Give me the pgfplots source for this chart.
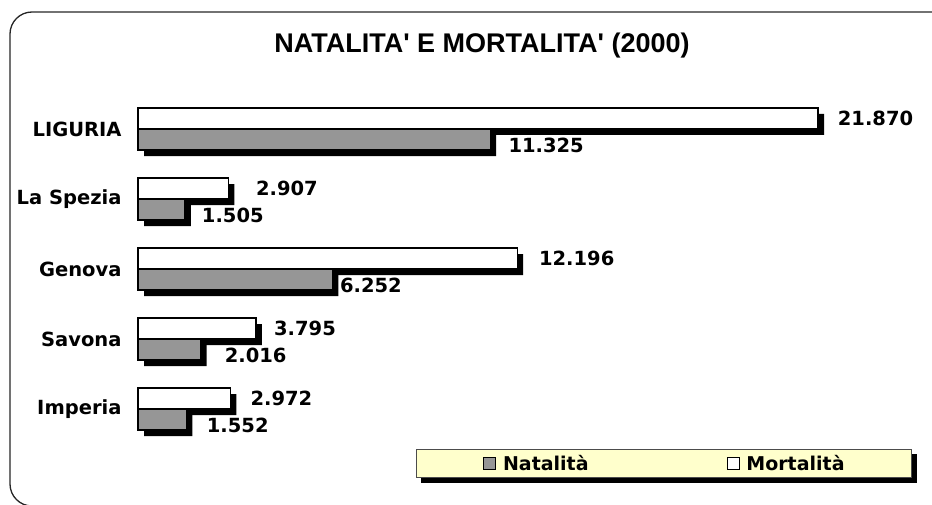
\documentclass[border=0pt]{standalone}
\usepackage{fontspec}
\usepackage{pgfplots}
\pgfplotsset{compat=1.18}
\usepackage{pgfplotstable}
\setmainfont{DejaVu Sans}
\newfontfamily\lblfont{DejaVu Sans}
\newfontfamily\titlefont{Liberation Sans}
\definecolor{natgray}{HTML}{969696}
\definecolor{legbg}{HTML}{FFFFCC}
\pgfdeclarelayer{background}
\pgfsetlayers{background,main}

\pgfplotstableread{
y nat mor natl morl offn offm
0 1552 2972 1.552 2.972 51.5 51
1 2016 3795 2.016 3.795 55 49
2 6252 12196 6.252 12.196 38.5 59.5
3 1505 2907 1.505 2.907 48 58.5
4 11325 21870 11.325 21.870 56 57.5
}\datatable

\begin{document}
\begin{tikzpicture}[x=1pt,y=1pt]
\path[use as bounding box] (0,0) rectangle (932,504);
\draw[line width=1.3pt, color=black!85, rounded corners=22pt] (960,492) -- (10,492) -- (10,-2) -- (960,-2);
\node[font=\titlefont\bfseries\fontsize{27}{31}\selectfont] at (482,458.5) {NATALITA\textquotesingle{} E MORTALITA\textquotesingle{} (2000)};
\begin{axis}[
  at={(138pt,60pt)}, anchor=south west,
  scale only axis, width=680pt, height=350pt,
  xmin=0, xmax=21870, ymin=-0.5, ymax=4.5,
  xbar, bar width=21pt,
  axis x line=none, axis y line*=left, y axis line style={draw=none},
  ytick={0,1,2,3,4}, yticklabels={Imperia,Savona,Genova,La Spezia,LIGURIA},
  major tick length=0pt, tick style={draw=none},
  yticklabel style={font=\lblfont\bfseries\fontsize{19.5}{23}\selectfont, anchor=east, xshift=-13pt},
  clip=false,
  point meta=explicit symbolic,
  legend style={name=leg, at={(1.1382,-0.0971)}, anchor=south east, fill=legbg, draw=black!70, line width=0.8pt,
    legend columns=2, inner xsep=67pt, inner ysep=5.5pt,
    nodes={inner sep=0pt, font=\lblfont\bfseries\fontsize{19}{23}\selectfont},
    /tikz/every odd column/.append style={column sep=7pt},
    /tikz/every even column/.append style={column sep=138pt}},
  legend cell align=left,
  legend image code/.code={\draw[#1, line width=0.8pt] (0pt,-6pt) rectangle (12pt,6pt);},
]
\addlegendimage{fill=natgray, draw=black}
\addlegendentry{Natalità}
\addlegendimage{fill=white, draw=black}
\addlegendentry{Mortalità}

% Mortalita shadow
\addplot[forget plot, fill=black, draw=none, bar shift=10.5pt, xshift=6pt, yshift=-6pt]
  table[x=mor, y=y]{\datatable};
% Mortalita bars
\addplot[forget plot, fill=white, draw=black, line width=1.2pt, bar shift=10.5pt,
  visualization depends on={\thisrow{offm} \as \myoff},
  nodes near coords,
  nodes near coords style={anchor=center, xshift=\myoff pt, font=\lblfont\bfseries\fontsize{19.5}{23}\selectfont, text=black}]
  table[x=mor, y=y, meta=morl]{\datatable};
% Natalita shadow
\addplot[forget plot, fill=black, draw=none, bar shift=-10.5pt, xshift=6pt, yshift=-6pt]
  table[x=nat, y=y]{\datatable};
% Natalita bars
\addplot[forget plot, fill=natgray, draw=black, line width=1.2pt, bar shift=-10.5pt,
  visualization depends on={\thisrow{offn} \as \myoff},
  nodes near coords,
  nodes near coords style={anchor=center, xshift=\myoff pt, yshift=-6pt, font=\lblfont\bfseries\fontsize{19.5}{23}\selectfont, text=black}]
  table[x=nat, y=y, meta=natl]{\datatable};
\end{axis}
\begin{pgfonlayer}{background}
\fill[black] ([shift={(5pt,-5pt)}]leg.south west) rectangle ([shift={(5pt,-5pt)}]leg.north east);
\end{pgfonlayer}
\end{tikzpicture}
\end{document}
